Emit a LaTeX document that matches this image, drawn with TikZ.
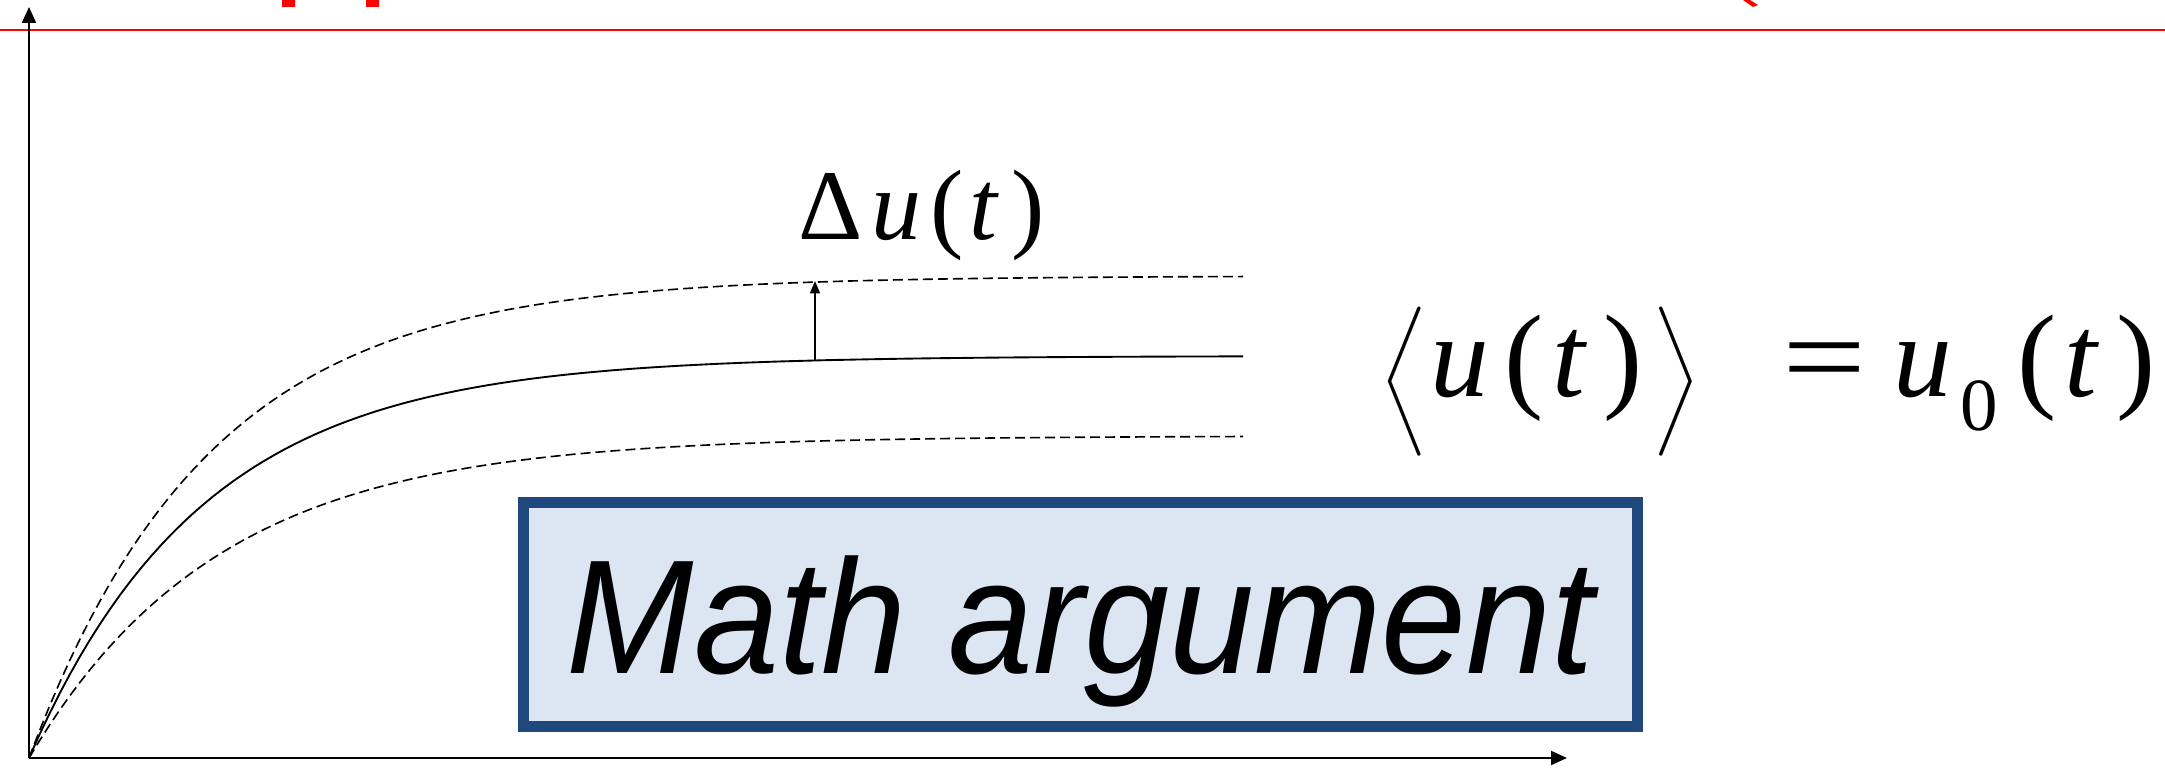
\documentclass[tikz,border=0pt]{standalone}
\usepackage{amsmath}
\usepackage{fontspec}
\setmainfont{Liberation Serif}
\newfontfamily\formfont{Liberation Serif}
\newfontfamily\argfont{Liberation Sans}
\usetikzlibrary{arrows.meta}
\definecolor{argblue}{RGB}{31,73,125}
\definecolor{argfill}{RGB}{220,230,242}

\begin{document}
\begin{tikzpicture}[
  x=0.4pt, y=-0.4pt,
  axis/.style={-{Triangle[length=6.4pt,width=5.6pt]}, line width=0.8pt},
  mean/.style={line width=0.75pt},
  spread/.style={line width=0.65pt, dash pattern=on 4pt off 2pt},
  deltaarr/.style={-{Triangle[length=5pt,width=4pt]}, line width=0.7pt},
  argbox/.style={draw=argblue, fill=argfill, line width=4.4pt, inner sep=0pt,
    minimum width=445.6pt, minimum height=89.6pt, text height=47pt, text depth=0pt},
  lbl/.style={inner sep=0pt, anchor=base west},
  eqfont/.style={font=\formfont\fontsize{47}{47}\selectfont}
]
  \useasboundingbox (0,0) rectangle (2165,770);

  % cut-off title above the rule
  \fill[red] (282,0) rectangle (295,7) (366,0) rectangle (379,7);
  \fill[red] (1743,0) -- (1750,0) -- (1758,5) -- (1753,7) -- cycle;
  \draw[red, line width=0.8pt] (0,30) -- (2165,30);

  \coordinate (origin) at (29,758);
  \coordinate (ytip) at (29,7);
  \coordinate (xtip) at (1567,758);
  \draw[axis] (origin) -- (ytip);
  \draw[axis] (origin) -- (xtip);

  \draw[spread] plot[domain=29:1243, samples=120] (\x, {276+482*exp(-(\x-29)/180)});
  \draw[mean] plot[domain=29:1243, samples=120] (\x, {356+402*exp(-(\x-29)/175)});
  \draw[spread] plot[domain=29:1243, samples=120] (\x, {436+322*exp(-(\x-29)/190)});

  \coordinate (lo) at (815,360);
  \coordinate (hi) at (815,281);
  \draw[deltaarr] (lo) -- (hi);

  \node[lbl, font=\formfont\fontsize{40}{40}\selectfont] (du) at (798,240)
    {Δ\hspace{3.6pt}\textit{u}\hspace{3.6pt}(\hspace{2pt}\textit{t}\hspace{5.2pt})};

  \node[lbl, eqfont] (lang) at (1380,397) {$\left\langle\rule[-14pt]{0pt}{52pt}\right.$};
  \node[lbl, eqfont] (avgu) at (1430,397) {\textit{u}\hspace{6pt}(\hspace{3.6pt}\textit{t}\hspace{6.4pt})};
  \node[lbl, eqfont] (rang) at (1650,397) {$\left.\rule[-14pt]{0pt}{52pt}\right\rangle$};
  \node[lbl, eqfont] (rhs) at (1782,397)
    {\scalebox{1.27}[1]{=}\hspace{10.8pt}\textit{u}\hspace{3.2pt}\raisebox{-13.6pt}{\fontsize{30}{30}\selectfont 0}\hspace{8pt}(\hspace{2.8pt}\textit{t}\hspace{6.8pt})};

  \node[argbox, font=\argfont\itshape\fontsize{65}{65}\selectfont] (argument) at (1080.5,614.5)
    {\scalebox{0.94}[1]{Math argument}};
\end{tikzpicture}
\end{document}
